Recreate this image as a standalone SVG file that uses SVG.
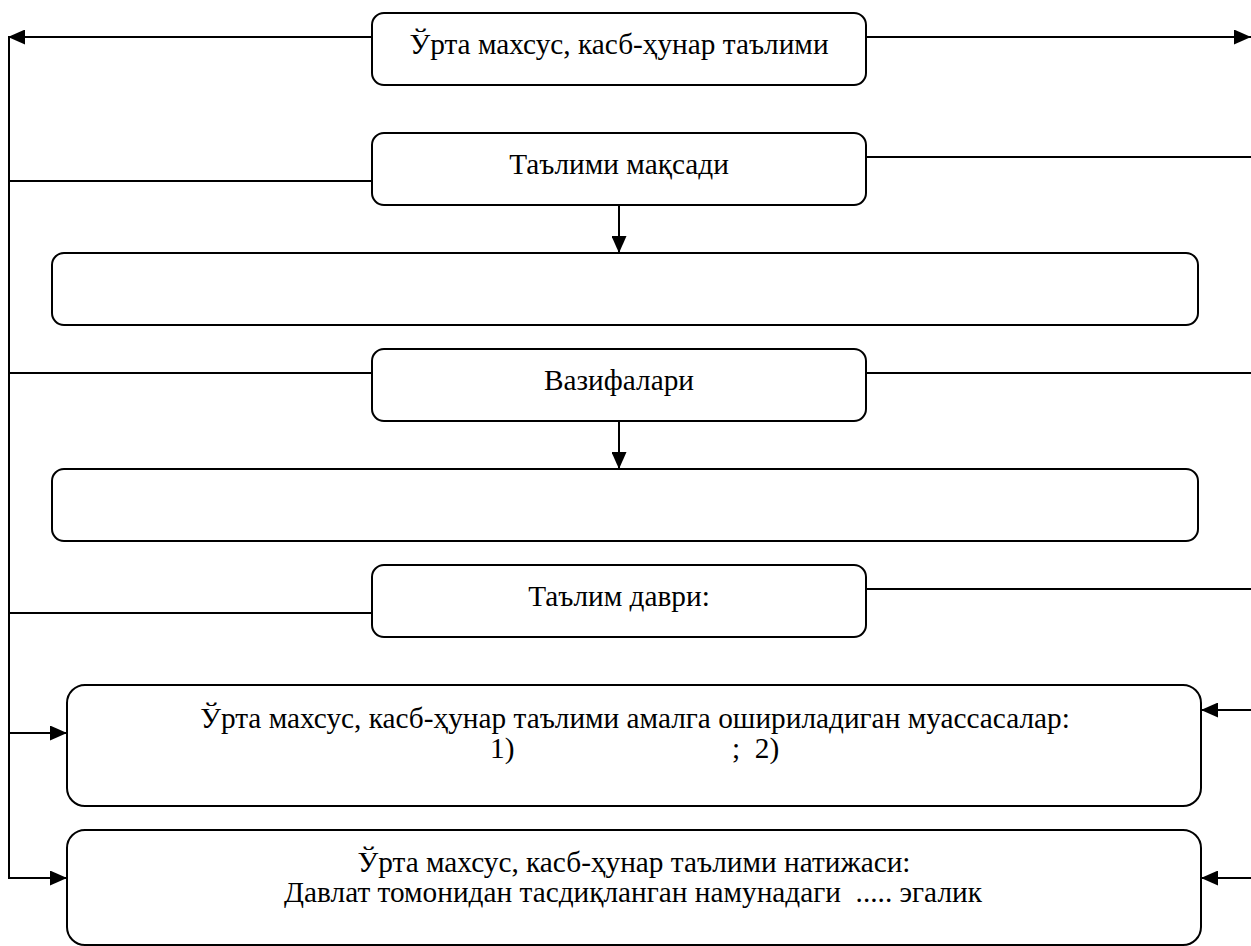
<svg xmlns="http://www.w3.org/2000/svg" width="1251" height="946" viewBox="0 0 1251 946">
<defs>
<style>
.box{fill:#fff;stroke:#000;stroke-width:2}
.ln{fill:none;stroke:#000;stroke-width:2}
.t{font-size:29.3px;fill:#000}
.c{text-anchor:middle}
</style>
<marker id="ah" viewBox="0 0 17 15" refX="17" refY="7.5" markerWidth="17" markerHeight="15" markerUnits="userSpaceOnUse" orient="auto">
<path d="M0,0 L17,7.5 L0,15 Z" fill="#000"/>
</marker>
</defs>
<rect width="1251" height="946" fill="#fff"/>
<g id="connectors">
<line class="ln" x1="372" y1="37" x2="8" y2="37" marker-end="url(#ah)"/>
<line class="ln" x1="866" y1="37" x2="1251" y2="37" marker-end="url(#ah)"/>
<line class="ln" x1="9" y1="36" x2="9" y2="879"/>
<line class="ln" x1="9" y1="181" x2="372" y2="181"/>
<line class="ln" x1="866" y1="157" x2="1251" y2="157"/>
<line class="ln" x1="619" y1="205" x2="619" y2="253" marker-end="url(#ah)"/>
<line class="ln" x1="9" y1="373" x2="372" y2="373"/>
<line class="ln" x1="866" y1="373" x2="1251" y2="373"/>
<line class="ln" x1="619" y1="421" x2="619" y2="469" marker-end="url(#ah)"/>
<line class="ln" x1="9" y1="613" x2="372" y2="613"/>
<line class="ln" x1="866" y1="589" x2="1251" y2="589"/>
<line class="ln" x1="9" y1="733" x2="67" y2="733" marker-end="url(#ah)"/>
<line class="ln" x1="1251" y1="710" x2="1201" y2="710" marker-end="url(#ah)"/>
<line class="ln" x1="9" y1="878" x2="67" y2="878" marker-end="url(#ah)"/>
<line class="ln" x1="1251" y1="878" x2="1201" y2="878" marker-end="url(#ah)"/>
</g>
<g font-family="Liberation Serif, Times New Roman, DejaVu Serif, serif">
<g id="n1">
<rect class="box" x="372" y="13" width="494" height="72" rx="12"/>
<text class="t c" x="619" y="54">Ўрта махсус, касб-ҳунар таълими</text>
</g>
<g id="n2">
<rect class="box" x="372" y="133" width="494" height="72" rx="12"/>
<text class="t c" x="619" y="174">Таълими мақсади</text>
</g>
<g id="n3">
<rect class="box" x="52" y="253" width="1146" height="72" rx="12"/>
</g>
<g id="n4">
<rect class="box" x="372" y="349" width="494" height="72" rx="12"/>
<text class="t c" x="619" y="390">Вазифалари</text>
</g>
<g id="n5">
<rect class="box" x="52" y="469" width="1146" height="72" rx="12"/>
</g>
<g id="n6">
<rect class="box" x="372" y="565" width="494" height="72" rx="12"/>
<text class="t c" x="619" y="606">Таълим даври:</text>
</g>
<g id="n7">
<rect class="box" x="67" y="685" width="1134" height="121" rx="18"/>
<text class="t c" x="635" y="728">Ўрта махсус, касб-ҳунар таълими амалга ошириладиган муассасалар:</text>
<text class="t" x="490" y="758">1)</text>
<text class="t" x="732" y="758" xml:space="preserve">;  2)</text>
</g>
<g id="n8">
<rect class="box" x="67" y="830" width="1134" height="115" rx="18"/>
<text class="t c" x="634" y="872">Ўрта махсус, касб-ҳунар таълими натижаси:</text>
<text class="t c" x="633" y="902" xml:space="preserve">Давлат томонидан тасдиқланган намунадаги  ..... эгалик</text>
</g>
</g>
</svg>
